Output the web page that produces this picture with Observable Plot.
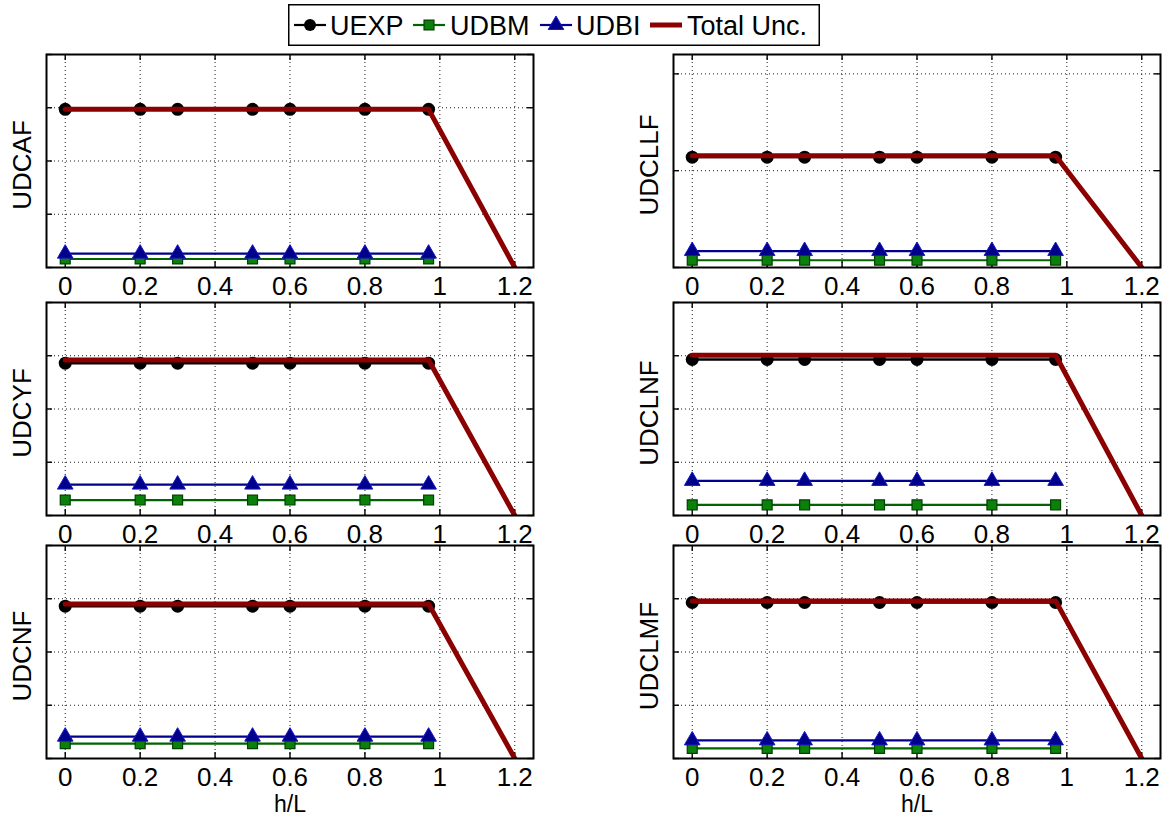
<!DOCTYPE html>
<html><head><meta charset="utf-8">
<script src="https://cdn.jsdelivr.net/npm/d3@7"></script>
<script src="https://cdn.jsdelivr.net/npm/@observablehq/plot@0.6"></script>
<style>
body{margin:0;background:#fff;}
#root{position:relative;width:1164px;height:817px;overflow:hidden;font-family:"Liberation Sans",Arial,Helvetica,sans-serif;}
#root svg{position:absolute;overflow:visible;max-width:none;}
</style></head><body><div id="root"></div>
<script>
// ---- data ----
const hL = [0, 0.2, 0.3, 0.5, 0.6, 0.8, 0.97];
const totalHL = [0, 0.97, 1.2];
const panelNames = ["UDCAF", "UDCLLF", "UDCYF", "UDCLNF", "UDCNF", "UDCLMF"];
const seriesNames = ["UEXP", "UDBM", "UDBI", "Total Unc."];
const xTicks = [0, 0.2, 0.4, 0.6, 0.8, 1, 1.2];
const xTickLabels = ["0", "0.2", "0.4", "0.6", "0.8", "1", "1.2"];
const yMaxes = [4, 2.2, 4, 4, 4, 4];
const yTicks4 = [0, 1, 2, 3, 4];
const yTicks2 = [0, 1, 2];

const uexp_UDCAF = [2.97, 2.97, 2.97, 2.97, 2.97, 2.97, 2.97];
const udbm_UDCAF = [0.16, 0.16, 0.16, 0.16, 0.16, 0.16, 0.16];
const udbi_UDCAF = [0.26, 0.26, 0.26, 0.26, 0.26, 0.26, 0.26];
const total_UDCAF = [2.97, 2.97, 0];

const uexp_UDCLLF = [1.14, 1.14, 1.14, 1.14, 1.14, 1.14, 1.14];
const udbm_UDCLLF = [0.075, 0.075, 0.075, 0.075, 0.075, 0.075, 0.075];
const udbi_UDCLLF = [0.17, 0.17, 0.17, 0.17, 0.17, 0.17, 0.17];
const total_UDCLLF = [1.155, 1.155, 0];

const uexp_UDCYF = [2.86, 2.86, 2.86, 2.86, 2.86, 2.86, 2.86];
const udbm_UDCYF = [0.29, 0.29, 0.29, 0.29, 0.29, 0.29, 0.29];
const udbi_UDCYF = [0.58, 0.58, 0.58, 0.58, 0.58, 0.58, 0.58];
const total_UDCYF = [2.92, 2.92, 0];

const uexp_UDCLNF = [2.93, 2.93, 2.93, 2.93, 2.93, 2.93, 2.93];
const udbm_UDCLNF = [0.20, 0.20, 0.20, 0.20, 0.20, 0.20, 0.20];
const udbi_UDCLNF = [0.65, 0.65, 0.65, 0.65, 0.65, 0.65, 0.65];
const total_UDCLNF = [3.01, 3.01, 0];

const uexp_UDCNF = [2.86, 2.86, 2.86, 2.86, 2.86, 2.86, 2.86];
const udbm_UDCNF = [0.28, 0.28, 0.28, 0.28, 0.28, 0.28, 0.28];
const udbi_UDCNF = [0.41, 0.41, 0.41, 0.41, 0.41, 0.41, 0.41];
const total_UDCNF = [2.90, 2.90, 0];

const uexp_UDCLMF = [2.93, 2.93, 2.93, 2.93, 2.93, 2.93, 2.93];
const udbm_UDCLMF = [0.19, 0.19, 0.19, 0.19, 0.19, 0.19, 0.19];
const udbi_UDCLMF = [0.34, 0.34, 0.34, 0.34, 0.34, 0.34, 0.34];
const total_UDCLMF = [2.96, 2.96, 0];

const uexpAll = [uexp_UDCAF, uexp_UDCLLF, uexp_UDCYF, uexp_UDCLNF, uexp_UDCNF, uexp_UDCLMF];
const udbmAll = [udbm_UDCAF, udbm_UDCLLF, udbm_UDCYF, udbm_UDCLNF, udbm_UDCNF, udbm_UDCLMF];
const udbiAll = [udbi_UDCAF, udbi_UDCLLF, udbi_UDCYF, udbi_UDCLNF, udbi_UDCNF, udbi_UDCLMF];
const totalAll = [total_UDCAF, total_UDCLLF, total_UDCYF, total_UDCLNF, total_UDCNF, total_UDCLMF];

// ---- styles / layout ----
const FONT = '"Liberation Sans", Arial, Helvetica, sans-serif';
const C_EXP = "#000000", C_DBM = "#006400", C_DBM_FILL = "#0b800b", C_DBI = "#00008b", C_TOT = "#8b0000";
const colLeft = [46, 673];
const rowTop = [54, 302, 545];
const boxW = 487, boxH = 213;
const mL = 46, mR = 4, mT = 6, mB = 62;

const root = document.getElementById("root");
const pts = (xs, ys) => xs.map((x, j) => ({x, y: ys[j]}));
const gridStyle = {stroke: "#000", strokeOpacity: 0.9, strokeWidth: 1, strokeDasharray: "1,3"};
const tickStyle = {stroke: "#000", strokeWidth: 1.4};

for (let i = 0; i < 6; i++) {
  const row = Math.floor(i / 2), col = i % 2;
  const yt = yMaxes[i] > 3 ? yTicks4 : yTicks2;
  const exp = pts(hL, uexpAll[i]);
  const dbm = pts(hL, udbmAll[i]);
  const dbi = pts(hL, udbiAll[i]);
  const tot = pts(totalHL, totalAll[i]);
  const svg = Plot.plot({
    width: mL + boxW + mR,
    height: mT + boxH + mB,
    marginLeft: mL, marginRight: mR, marginTop: mT, marginBottom: mB,
    x: {domain: [-0.05, 1.25], label: null},
    y: {domain: [0, yMaxes[i]], axis: null, label: null},
    style: {background: "transparent", fontFamily: FONT, color: "#000", overflow: "visible"},
    marks: [
      Plot.gridX(xTicks, gridStyle),
      Plot.gridY(yt, gridStyle),
      Plot.ruleX(xTicks, {x: d => d, insetTop: boxH - 6, ...tickStyle}),
      Plot.ruleX(xTicks, {x: d => d, insetBottom: boxH - 6, ...tickStyle}),
      Plot.ruleY(yt, {y: d => d, insetRight: boxW - 6, ...tickStyle}),
      Plot.ruleY(yt, {y: d => d, insetLeft: boxW - 6, ...tickStyle}),
      Plot.line(exp, {x: "x", y: "y", stroke: C_EXP, strokeWidth: 2.4}),
      Plot.dot(exp, {x: "x", y: "y", r: 6.5, fill: C_EXP, stroke: "none"}),
      Plot.line(dbm, {x: "x", y: "y", stroke: C_DBM, strokeWidth: 2.2}),
      Plot.dot(dbm, {x: "x", y: "y", symbol: "square", r: 5.6, fill: C_DBM_FILL, stroke: "#004000", strokeWidth: 1.2}),
      Plot.line(dbi, {x: "x", y: "y", stroke: C_DBI, strokeWidth: 2.2}),
      Plot.dot(dbi, {x: "x", y: "y", symbol: "triangle", r: 5.8, fill: C_DBI, stroke: "#1818c8", strokeWidth: 1}),
      Plot.line(tot, {x: "x", y: "y", stroke: C_TOT, strokeWidth: 5, clip: true}),
      Plot.frame({stroke: "#000", strokeWidth: 2}),
      Plot.axisX({ticks: xTicks, tickFormat: d => xTickLabels[xTicks.indexOf(d)], anchor: "bottom", tickSize: 0, tickPadding: 9, fontSize: 26, label: null, fill: "#000"}),
      Plot.text([panelNames[i]], {frameAnchor: "left", textAnchor: "middle", lineAnchor: "middle", rotate: -90, dx: -24, dy: 4, fontSize: 26, fill: "#000"}),
      row === 2 ? Plot.text(["h/L"], {frameAnchor: "bottom", textAnchor: "middle", dy: 37.5, lineAnchor: "top", fontSize: 23, fill: "#000"}) : null
    ]
  });
  svg.style.left = (colLeft[col] - mL) + "px";
  svg.style.top = (rowTop[row] - mT) + "px";
  root.appendChild(svg);
}

// ---- legend ----
const lg = d3.select(root).append("svg")
  .attr("width", 532).attr("height", 42)
  .style("left", "288px").style("top", "4px");
lg.append("rect").attr("x", 0.75).attr("y", 0.75).attr("width", 530.5).attr("height", 40.5)
  .attr("fill", "#fff").attr("stroke", "#000").attr("stroke-width", 1.5);
const items = [
  {name: seriesNames[0], x0: 6, tx: 42, color: C_EXP, w: 2.2, sym: "circle"},
  {name: seriesNames[1], x0: 125, tx: 162, color: C_DBM, w: 2.2, sym: "square"},
  {name: seriesNames[2], x0: 252, tx: 288, color: C_DBI, w: 2.2, sym: "triangle"},
  {name: seriesNames[3], x0: 362, tx: 399, color: C_TOT, w: 5, sym: null}
];
const cy = 21;
for (const it of items) {
  lg.append("line").attr("x1", it.x0).attr("x2", it.x0 + 32).attr("y1", cy).attr("y2", cy)
    .attr("stroke", it.color).attr("stroke-width", it.w);
  const cx = it.x0 + 16;
  if (it.sym === "circle") {
    lg.append("circle").attr("cx", cx).attr("cy", cy).attr("r", 6).attr("fill", C_EXP);
  } else if (it.sym === "square") {
    lg.append("path").attr("d", d3.symbol(d3.symbolSquare, Math.PI * 5.6 * 5.6)())
      .attr("transform", `translate(${cx},${cy})`).attr("fill", C_DBM_FILL).attr("stroke", "#004000").attr("stroke-width", 1.2);
  } else if (it.sym === "triangle") {
    lg.append("path").attr("d", d3.symbol(d3.symbolTriangle, Math.PI * 5.8 * 5.8)())
      .attr("transform", `translate(${cx},${cy})`).attr("fill", C_DBI).attr("stroke", "#1818c8").attr("stroke-width", 1);
  }
  lg.append("text").attr("x", it.tx).attr("y", cy + 9.8).text(it.name)
    .attr("font-size", 27).attr("font-family", FONT).attr("fill", "#000");
}
</script>
</body></html>
